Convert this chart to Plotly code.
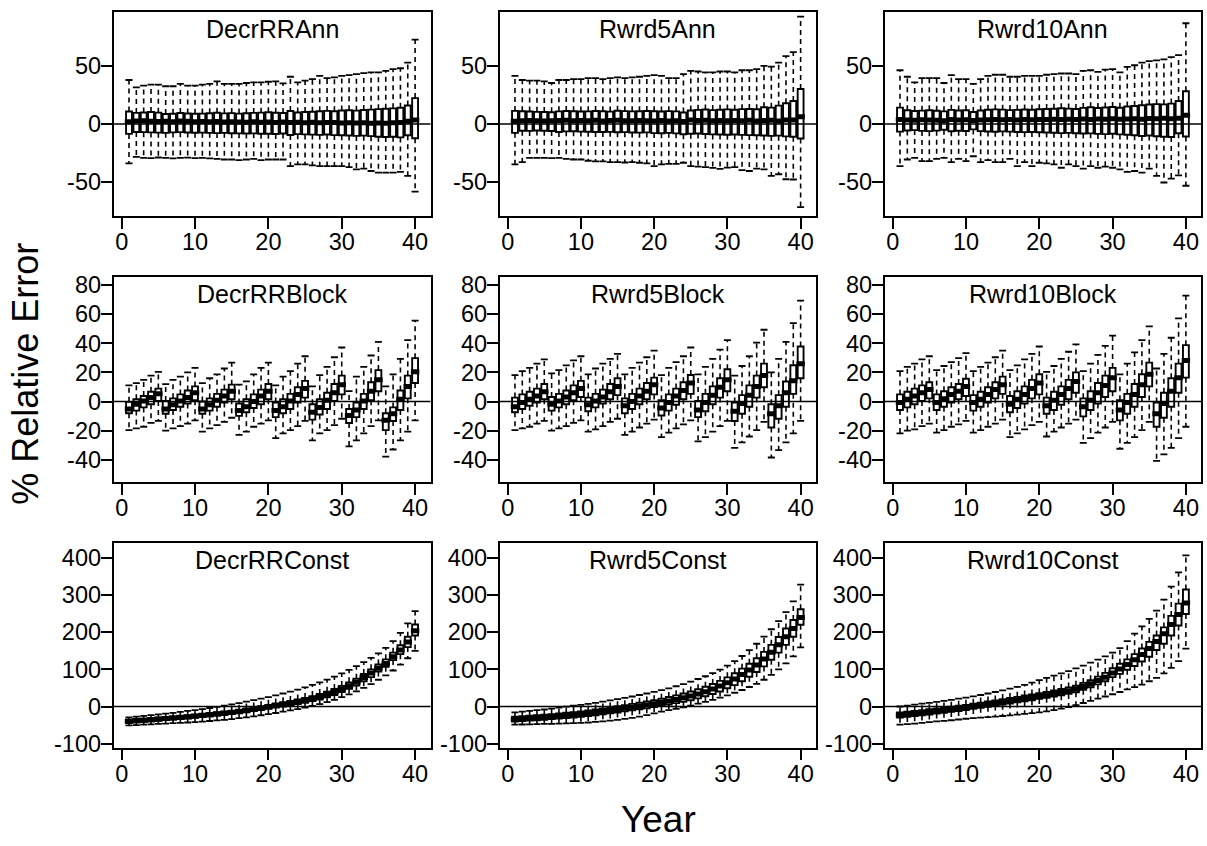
import plotly.graph_objects as go

YEARS = list(range(1, 41))

# ---------------- Row 1 : annual ----------------
DecrRRAnn_hi = [37.9, 31.6, 33.1, 33.9, 33.9, 32.5, 32.5, 34.5, 33.1, 33.1,
                33.9, 34.5, 36.7, 34.5, 34.5, 34.5, 35.3, 35.9, 35.9, 36.4,
                36.7, 35.0, 40.7, 35.9, 37.3, 38.7, 41.5, 39.5, 40.1, 41.5,
                42.1, 42.9, 43.8, 44.4, 44.4, 45.8, 47.2, 48.0, 52.8, 72.6]
DecrRRAnn_q3 = [10.8, 9.6, 9.9, 10.4, 9.8, 8.6, 8.9, 9.5, 9.1, 8.8,
                9.0, 9.3, 9.7, 9.2, 9.4, 9.0, 9.3, 9.6, 9.8, 10.1,
                9.7, 9.5, 11.2, 9.9, 10.3, 10.6, 11.0, 11.3, 11.0, 11.6,
                11.9, 11.5, 12.1, 12.4, 12.8, 13.2, 13.5, 14.0, 16.0, 22.3]
DecrRRAnn_med = [1.9, 2.6, 2.8, 2.5, 2.2, 2.3, 2.0, 2.6, 2.3, 2.0,
                 2.2, 1.9, 2.1, 1.7, 2.0, 1.8, 1.6, 1.9, 1.5, 1.7,
                 1.4, 1.8, 1.3, 1.6, 1.2, 1.5, 1.1, 1.4, 1.3, 1.0,
                 1.2, 0.9, 1.1, 0.7, 1.0, 0.6, 1.1, 1.3, 2.4, 3.4]
DecrRRAnn_q1 = [-8.5, -6.8, -7.0, -7.2, -7.4, -7.6, -7.2, -7.0, -7.3, -7.5,
                -7.4, -7.6, -7.8, -7.6, -7.9, -8.0, -8.1, -8.0, -8.3, -8.4,
                -8.6, -8.2, -9.4, -8.7, -8.9, -9.1, -9.3, -9.0, -9.5, -9.6,
                -9.9, -10.2, -10.0, -10.4, -10.9, -11.2, -11.0, -11.5, -9.6, -12.2]
DecrRRAnn_lo = [-33.9, -28.2, -29.1, -29.4, -28.8, -29.1, -29.6, -29.1, -28.9, -29.3,
                -29.1, -29.5, -29.9, -30.5, -30.5, -31.1, -30.5, -29.9, -31.1, -30.5,
                -30.5, -30.5, -36.2, -34.7, -34.7, -35.6, -36.2, -36.2, -36.2, -36.2,
                -37.0, -39.0, -38.4, -40.4, -41.8, -41.8, -41.8, -41.2, -44.6, -58.2]

Rwrd5Ann_hi = [41.5, 37.9, 37.3, 37.3, 36.7, 35.3, 37.9, 37.9, 38.7, 38.7,
               39.5, 39.5, 38.7, 39.5, 40.1, 39.5, 40.1, 40.7, 41.5, 42.1,
               41.5, 39.5, 39.5, 42.9, 45.8, 45.2, 44.4, 44.4, 45.2, 45.2,
               44.4, 46.3, 46.3, 47.2, 50.0, 49.4, 52.8, 58.5, 61.9, 92.4]
Rwrd5Ann_q3 = [11.3, 11.0, 10.8, 10.5, 10.4, 10.2, 10.9, 11.2, 11.0, 10.8,
               10.9, 11.2, 11.0, 10.7, 11.4, 11.1, 10.9, 11.0, 11.2, 11.0,
               10.8, 11.1, 10.9, 9.9, 11.6, 12.2, 12.5, 12.0, 12.3, 12.6,
               12.3, 12.8, 13.0, 12.7, 14.4, 14.1, 15.8, 17.9, 19.8, 30.2]
Rwrd5Ann_med = [2.4, 2.9, 3.1, 2.8, 2.7, 2.9, 3.0, 3.2, 2.8, 3.1,
                2.9, 3.3, 2.7, 3.0, 3.2, 2.9, 2.8, 3.1, 2.9, 2.6,
                3.0, 2.7, 2.8, 2.2, 3.4, 3.1, 3.2, 2.9, 3.0, 2.8,
                3.1, 2.9, 3.3, 2.7, 3.0, 3.2, 2.6, 3.4, 3.5, 6.2]
Rwrd5Ann_q1 = [-7.6, -5.8, -5.9, -5.6, -5.8, -6.0, -6.9, -6.3, -6.2, -6.5,
               -6.6, -6.8, -6.9, -6.7, -7.1, -7.0, -7.3, -7.4, -7.2, -7.8,
               -7.9, -7.6, -8.0, -8.8, -8.4, -8.2, -8.6, -8.9, -9.0, -9.2,
               -9.0, -9.3, -9.5, -9.7, -9.9, -10.2, -10.0, -10.6, -10.9, -12.4]
Rwrd5Ann_lo = [-34.7, -32.8, -29.1, -29.1, -29.1, -29.4, -29.1, -29.9, -30.5, -30.5,
               -31.6, -32.2, -32.2, -32.8, -32.8, -33.1, -32.8, -33.3, -33.9, -36.2,
               -34.7, -34.2, -34.2, -33.3, -36.2, -36.7, -37.0, -37.8, -38.6, -37.5,
               -37.0, -39.6, -40.4, -38.4, -39.0, -44.6, -43.2, -47.5, -47.7, -71.5]

Rwrd10Ann_hi = [46.3, 40.7, 35.9, 39.5, 39.5, 39.5, 35.3, 42.1, 38.7, 38.7,
                34.5, 38.7, 41.5, 42.4, 42.4, 40.7, 40.7, 41.5, 41.5, 41.5,
                42.4, 42.9, 43.5, 43.5, 42.9, 45.8, 46.3, 44.9, 46.9, 47.2,
                44.4, 49.2, 50.6, 52.8, 54.2, 54.8, 55.6, 57.6, 59.3, 86.7]
Rwrd10Ann_q3 = [14.1, 11.9, 11.2, 11.5, 11.8, 11.4, 10.9, 12.2, 11.6, 11.9,
                10.4, 11.7, 12.3, 12.6, 12.4, 12.0, 12.2, 12.5, 12.3, 12.7,
                12.9, 13.1, 13.6, 13.3, 13.0, 13.9, 14.4, 13.8, 14.2, 14.6,
                14.0, 15.1, 15.5, 16.2, 16.8, 17.1, 16.9, 17.6, 19.8, 28.2]
Rwrd10Ann_med = [3.9, 3.4, 3.2, 3.6, 3.5, 3.3, 2.9, 3.8, 3.4, 3.6,
                 3.0, 3.5, 3.7, 3.9, 3.6, 3.8, 3.5, 3.9, 3.7, 4.0,
                 3.8, 4.1, 3.9, 4.2, 3.8, 4.3, 4.0, 4.4, 4.1, 4.5,
                 4.2, 4.3, 4.6, 4.2, 4.8, 4.5, 4.9, 4.6, 5.0, 7.6]
Rwrd10Ann_q1 = [-6.5, -5.6, -5.2, -5.9, -6.1, -5.7, -4.9, -6.2, -5.8, -6.0,
                -4.6, -6.1, -6.4, -6.6, -6.3, -6.5, -6.8, -7.0, -6.9, -7.1,
                -7.3, -7.5, -7.8, -7.6, -7.9, -8.2, -8.0, -8.5, -8.7, -8.4,
                -8.9, -9.2, -9.6, -10.3, -9.8, -10.5, -10.9, -11.2, -7.9, -10.7]
Rwrd10Ann_lo = [-36.2, -30.5, -29.1, -31.9, -31.9, -29.9, -29.1, -32.8, -29.9, -31.9,
                -27.7, -32.8, -31.1, -32.8, -32.8, -29.9, -36.2, -32.8, -36.2, -33.3,
                -33.9, -34.7, -37.6, -34.7, -36.2, -38.4, -36.2, -37.6, -36.7, -37.6,
                -39.0, -41.2, -40.4, -41.8, -38.4, -44.6, -50.3, -46.9, -44.1, -53.1]

# ---------------- Row 2 : block ----------------
DecrRRBlock_hi = [11.1, 12.7, 14.9, 17.8, 20.4, 12.0, 14.9, 17.1, 20.0, 23.1,
                  12.7, 16.0, 18.7, 22.7, 26.7, 11.6, 13.8, 18.7, 23.1, 26.7,
                  11.1, 17.1, 20.9, 26.0, 31.1, 10.4, 18.2, 23.8, 30.4, 37.1,
                  7.1, 17.1, 23.8, 31.6, 40.9, 10.4, 18.7, 29.3, 42.2, 55.6]
DecrRRBlock_q3 = [-0.2, 1.6, 3.8, 6.7, 8.9, 0.4, 2.2, 4.9, 7.6, 10.4,
                  0.0, 2.2, 5.3, 8.2, 11.6, -1.3, 1.6, 4.9, 8.2, 12.0,
                  -0.7, 1.6, 5.3, 9.8, 14.2, -1.8, 1.6, 6.0, 12.0, 17.8,
                  -5.1, -0.7, 5.3, 13.3, 21.6, -8.0, -4.0, 7.6, 17.8, 29.8]
DecrRRBlock_med = [-5.1, -1.8, 0.4, 2.7, 5.3, -5.1, -2.2, 0.4, 2.7, 6.0,
                   -5.1, -2.2, 0.9, 3.8, 7.1, -6.2, -3.6, 0.0, 3.8, 7.1,
                   -6.2, -3.6, 0.4, 4.9, 8.9, -7.3, -4.0, 0.9, 6.0, 11.6,
                   -9.6, -5.8, 0.4, 7.1, 14.9, -12.9, -8.4, 1.6, 10.4, 20.4]
DecrRRBlock_q1 = [-8.0, -6.2, -4.0, -1.8, 0.4, -8.4, -5.8, -3.6, -1.3, 0.9,
                  -8.4, -6.2, -3.6, -0.7, 1.6, -9.8, -7.3, -4.4, -1.8, 1.6,
                  -10.7, -8.0, -5.1, -0.7, 2.7, -12.4, -8.9, -5.1, 0.4, 4.9,
                  -14.7, -10.7, -5.1, 0.9, 7.1, -19.6, -13.3, -5.8, 2.2, 12.7]
DecrRRBlock_lo = [-19.6, -18.4, -17.3, -14.7, -13.3, -20.0, -18.4, -16.9, -15.1, -12.9,
                  -20.7, -18.4, -16.2, -14.0, -11.1, -22.9, -20.7, -17.3, -15.1, -12.9,
                  -25.1, -21.8, -19.6, -16.9, -13.3, -26.7, -21.8, -19.6, -16.2, -11.8,
                  -30.7, -26.7, -21.8, -16.9, -12.9, -37.8, -32.9, -26.7, -20.7, -12.9]

Rwrd5Block_hi = [18.2, 20.9, 23.1, 26.0, 28.9, 19.3, 21.6, 24.9, 28.2, 31.1,
                 18.7, 22.7, 26.0, 29.3, 32.7, 18.7, 23.1, 26.7, 30.4, 34.9,
                 18.2, 23.1, 27.1, 31.1, 37.1, 18.7, 23.8, 29.3, 35.6, 42.2,
                 17.8, 24.4, 31.1, 40.4, 49.3, 20.0, 29.3, 40.9, 53.8, 69.3]
Rwrd5Block_q3 = [2.7, 4.9, 6.7, 8.9, 12.0, 3.1, 5.3, 7.6, 11.1, 14.2,
                 2.7, 5.3, 8.2, 12.0, 16.0, 2.2, 5.3, 8.9, 12.7, 16.4,
                 0.9, 4.9, 8.9, 13.3, 18.2, 0.4, 5.3, 10.4, 16.0, 22.2,
                 -0.7, 4.4, 11.1, 17.8, 26.0, -1.8, 4.4, 13.8, 24.9, 37.8]
Rwrd5Block_med = [-3.6, -0.7, 1.6, 3.8, 6.7, -1.8, 0.4, 3.1, 6.0, 8.9,
                  -2.2, 0.4, 3.1, 6.7, 10.4, -2.9, 0.0, 3.8, 7.1, 11.6,
                  -4.4, -0.7, 3.8, 7.6, 12.7, -5.8, -0.7, 4.4, 9.8, 14.9,
                  -6.7, -1.3, 4.4, 10.4, 17.8, -8.4, -2.9, 6.0, 14.2, 26.0]
Rwrd5Block_q1 = [-7.3, -5.1, -2.9, -0.7, 1.6, -6.2, -4.0, -1.8, 0.9, 3.1,
                 -6.7, -4.0, -1.3, 1.6, 4.4, -8.0, -5.1, -1.8, 1.6, 4.9,
                 -9.6, -6.2, -2.2, 1.6, 5.3, -10.7, -6.7, -1.8, 2.7, 7.1,
                 -13.3, -8.4, -3.6, 2.7, 9.8, -17.8, -11.8, -3.6, 5.3, 16.0]
Rwrd5Block_lo = [-19.6, -18.4, -17.3, -15.1, -13.3, -20.0, -18.4, -16.9, -14.7, -12.9,
                 -20.7, -19.1, -16.9, -14.0, -11.8, -22.9, -20.7, -17.8, -15.1, -12.4,
                 -24.4, -21.3, -18.4, -15.6, -12.9, -27.3, -24.4, -20.7, -16.9, -13.3,
                 -31.8, -28.0, -24.0, -19.6, -14.0, -38.4, -33.3, -28.0, -21.8, -13.3]

Rwrd10Block_hi = [20.9, 23.8, 26.0, 28.9, 31.1, 21.6, 24.4, 27.1, 29.8, 33.3,
                  20.9, 23.8, 26.7, 30.4, 34.9, 21.6, 24.9, 28.9, 32.7, 37.8,
                  20.4, 24.4, 29.3, 34.2, 39.3, 20.9, 26.0, 32.0, 38.2, 45.3,
                  18.7, 26.0, 33.8, 42.2, 51.6, 22.7, 32.7, 43.8, 57.1, 72.7]
Rwrd10Block_q3 = [4.9, 6.7, 8.9, 11.1, 13.3, 4.9, 7.1, 9.8, 12.0, 15.6,
                  4.4, 6.7, 9.8, 13.3, 17.1, 3.8, 7.1, 10.4, 14.9, 18.7,
                  2.7, 6.7, 10.4, 14.9, 20.0, 2.2, 7.1, 12.7, 17.8, 23.1,
                  0.9, 5.3, 12.0, 18.7, 26.7, -0.7, 6.0, 16.0, 26.0, 38.7]
Rwrd10Block_med = [-0.7, 1.6, 3.8, 6.0, 8.2, -0.7, 2.0, 4.9, 7.1, 10.4,
                   -0.7, 1.6, 4.9, 8.2, 11.6, -1.8, 1.6, 4.9, 8.9, 12.7,
                   -2.9, 0.9, 4.9, 8.9, 13.8, -3.6, 0.9, 6.0, 11.1, 16.4,
                   -5.8, -0.7, 4.9, 11.6, 18.7, -8.4, -1.3, 7.1, 16.4, 28.2]
Rwrd10Block_q1 = [-5.8, -4.0, -1.8, 0.4, 2.2, -5.8, -3.6, -0.7, 1.6, 3.8,
                  -6.2, -3.6, -0.7, 2.2, 5.3, -7.3, -4.4, -1.3, 2.2, 4.9,
                  -8.4, -5.8, -2.2, 1.6, 6.0, -10.2, -5.8, -1.3, 3.1, 7.1,
                  -12.9, -8.4, -3.6, 3.1, 10.4, -17.3, -11.1, -3.6, 6.0, 16.4]
Rwrd10Block_lo = [-21.8, -20.0, -19.1, -16.9, -15.1, -21.3, -19.6, -17.3, -15.6, -13.3,
                  -21.3, -19.6, -17.3, -15.1, -12.4, -24.4, -21.8, -19.1, -16.2, -14.0,
                  -24.0, -20.7, -17.8, -15.1, -12.4, -28.4, -25.1, -21.3, -17.8, -14.0,
                  -32.4, -28.4, -24.4, -19.6, -14.0, -40.7, -36.2, -31.8, -25.1, -17.3]

# ---------------- Row 3 : constant ----------------
DecrRRConst_hi = [-29.0, -27.0, -25.0, -23.0, -21.0, -19.0, -17.0, -14.5, -12.0, -9.5,
                  -7.0, -4.0, -1.0, 2.0, 5.5, 9.0, 13.0, 17.0, 21.0, 25.5,
                  30.0, 35.0, 40.0, 45.5, 51.5, 58.0, 65.0, 72.5, 80.5, 89.0,
                  98.5, 108.5, 119.5, 131.0, 143.0, 158.0, 176.0, 198.0, 224.0, 257.0]
DecrRRConst_q3 = [-35.5, -34.0, -32.5, -31.0, -29.5, -28.0, -26.5, -25.0, -23.5, -21.5,
                  -19.5, -17.5, -15.0, -13.0, -11.0, -8.5, -5.5, -2.5, 1.0, 4.5,
                  8.0, 11.5, 15.0, 19.0, 23.0, 28.0, 33.5, 40.0, 47.0, 55.5,
                  65.0, 75.0, 87.5, 100.0, 113.0, 127.0, 145.0, 165.0, 188.0, 221.0]
DecrRRConst_med = [-40.0, -38.5, -37.0, -35.5, -34.0, -32.5, -31.0, -29.5, -28.0, -26.0,
                   -24.0, -22.0, -20.0, -18.0, -16.0, -13.5, -11.0, -8.0, -4.5, -1.0,
                   2.5, 5.5, 9.0, 12.5, 16.5, 21.0, 26.0, 32.0, 39.0, 47.0,
                   56.0, 66.0, 78.0, 90.0, 103.0, 116.0, 134.0, 152.0, 174.0, 204.0]
DecrRRConst_q1 = [-44.0, -42.5, -41.0, -39.5, -38.0, -36.5, -35.0, -33.5, -32.0, -30.0,
                  -28.0, -26.5, -24.5, -22.5, -20.5, -18.0, -15.5, -12.5, -9.5, -6.0,
                  -3.0, 0.0, 3.0, 6.5, 10.0, 14.5, 19.0, 24.5, 31.0, 39.0,
                  47.5, 56.5, 68.0, 79.0, 94.0, 107.0, 125.0, 141.0, 160.0, 191.0]
DecrRRConst_lo = [-51.0, -50.0, -49.0, -48.0, -47.0, -46.0, -45.0, -44.0, -43.0, -42.0,
                  -40.5, -39.0, -37.5, -36.0, -34.0, -31.5, -29.0, -26.5, -23.5, -20.5,
                  -17.5, -14.0, -10.5, -7.0, -3.0, 1.5, 6.5, 12.0, 18.0, 25.0,
                  32.5, 41.0, 50.0, 60.0, 72.0, 84.0, 97.0, 113.0, 130.0, 150.0]

Rwrd5Const_hi = [-16.0, -14.0, -12.0, -10.0, -8.0, -5.5, -3.0, -0.5, 2.0, 4.5,
                 7.0, 10.0, 13.0, 16.5, 20.0, 23.5, 27.0, 31.0, 35.0, 39.5,
                 44.0, 49.0, 54.5, 60.5, 67.0, 74.0, 81.5, 90.0, 99.5, 110.0,
                 122.0, 136.0, 152.0, 169.0, 188.0, 208.0, 230.0, 254.0, 283.0, 328.0]
Rwrd5Const_q3 = [-27.5, -26.0, -25.0, -23.5, -22.0, -20.5, -19.0, -17.0, -15.0, -13.0,
                 -10.5, -8.0, -5.5, -2.5, 0.5, 3.5, 7.0, 10.0, 13.5, 17.0,
                 21.0, 25.5, 30.0, 35.0, 40.5, 46.5, 53.0, 60.5, 69.0, 78.5,
                 89.5, 102.0, 115.0, 130.0, 147.0, 166.0, 187.0, 210.0, 233.0, 262.0]
Rwrd5Const_med = [-34.0, -32.5, -31.5, -30.5, -29.0, -27.5, -26.0, -24.5, -22.5, -20.5,
                  -18.0, -16.0, -13.5, -11.0, -8.0, -5.0, -2.0, 1.0, 4.0, 7.5,
                  11.0, 15.0, 19.0, 23.5, 28.5, 34.0, 40.0, 47.0, 55.0, 64.0,
                  74.0, 86.0, 98.0, 112.0, 128.0, 146.0, 166.0, 188.0, 210.0, 240.0]
Rwrd5Const_q1 = [-40.5, -39.0, -38.0, -37.0, -35.5, -34.0, -32.5, -31.0, -29.5, -27.5,
                 -25.5, -23.5, -21.0, -18.5, -16.0, -13.0, -10.0, -7.5, -5.0, -1.5,
                 2.0, 5.5, 9.0, 13.0, 17.0, 22.0, 27.5, 33.5, 40.5, 49.0,
                 57.5, 68.0, 80.0, 93.0, 108.0, 126.0, 145.0, 166.0, 188.0, 220.0]
Rwrd5Const_lo = [-49.0, -48.5, -48.0, -47.5, -47.0, -46.5, -46.0, -45.5, -45.0, -44.0,
                 -43.0, -41.5, -40.0, -38.0, -36.0, -33.5, -30.5, -27.0, -23.0, -18.5,
                 -14.0, -10.0, -6.0, -2.0, 2.5, 7.5, 12.5, 18.0, 24.0, 30.0,
                 37.0, 44.5, 52.5, 61.0, 72.0, 85.0, 100.0, 116.0, 135.0, 159.0]

Rwrd10Const_hi = [0.0, 2.5, 5.0, 7.5, 10.0, 12.5, 15.0, 18.0, 21.0, 24.0,
                  27.5, 31.0, 35.0, 39.0, 43.5, 48.0, 53.0, 58.5, 64.5, 71.0,
                  77.0, 83.0, 89.0, 95.5, 102.5, 110.0, 118.0, 126.0, 135.0, 145.0,
                  157.0, 176.0, 196.0, 216.0, 236.0, 258.0, 288.0, 323.0, 361.0, 407.0]
Rwrd10Const_q3 = [-16.0, -14.0, -12.0, -10.0, -7.5, -5.0, -3.0, -0.5, 2.0, 4.5,
                  7.5, 10.5, 13.5, 16.5, 20.0, 23.0, 26.0, 29.5, 32.5, 36.0,
                  39.5, 43.5, 47.0, 51.5, 56.0, 63.5, 71.0, 80.5, 90.5, 103.0,
                  115.0, 127.0, 141.0, 156.0, 174.0, 191.0, 213.0, 244.0, 277.0, 315.0]
Rwrd10Const_med = [-23.0, -21.0, -19.0, -17.0, -14.5, -12.0, -10.0, -7.5, -5.0, -2.5,
                   0.5, 3.5, 6.5, 9.5, 12.5, 15.5, 18.5, 21.5, 24.5, 28.0,
                   31.5, 35.0, 38.5, 42.5, 47.0, 54.0, 61.0, 70.0, 79.0, 90.0,
                   101.0, 113.0, 126.0, 140.0, 156.0, 175.0, 196.0, 221.0, 248.0, 279.0]
Rwrd10Const_q1 = [-30.0, -28.0, -26.0, -24.0, -21.5, -19.0, -17.0, -14.5, -12.0, -9.5,
                  -6.5, -3.5, -0.5, 2.5, 5.0, 8.0, 11.0, 14.0, 17.0, 20.5,
                  23.5, 27.0, 30.5, 34.0, 38.5, 45.0, 52.0, 59.5, 68.0, 79.0,
                  88.0, 99.0, 109.0, 121.0, 134.0, 152.0, 169.0, 191.0, 218.0, 249.0]
Rwrd10Const_lo = [-49.0, -47.5, -46.0, -44.0, -42.0, -40.0, -38.5, -37.0, -35.0, -33.0,
                  -31.5, -30.0, -28.5, -27.0, -25.5, -24.0, -22.0, -20.0, -18.0, -16.0,
                  -13.0, -9.5, -5.5, -1.5, 3.5, 9.5, 15.0, 21.0, 27.0, 33.0,
                  39.0, 46.0, 52.0, 59.0, 68.0, 77.0, 89.0, 104.0, 122.0, 156.0]

PANEL_TITLES = ["DecrRRAnn", "Rwrd5Ann", "Rwrd10Ann",
                "DecrRRBlock", "Rwrd5Block", "Rwrd10Block",
                "DecrRRConst", "Rwrd5Const", "Rwrd10Const"]
PANEL_DATA = [
    (DecrRRAnn_lo, DecrRRAnn_q1, DecrRRAnn_med, DecrRRAnn_q3, DecrRRAnn_hi),
    (Rwrd5Ann_lo, Rwrd5Ann_q1, Rwrd5Ann_med, Rwrd5Ann_q3, Rwrd5Ann_hi),
    (Rwrd10Ann_lo, Rwrd10Ann_q1, Rwrd10Ann_med, Rwrd10Ann_q3, Rwrd10Ann_hi),
    (DecrRRBlock_lo, DecrRRBlock_q1, DecrRRBlock_med, DecrRRBlock_q3, DecrRRBlock_hi),
    (Rwrd5Block_lo, Rwrd5Block_q1, Rwrd5Block_med, Rwrd5Block_q3, Rwrd5Block_hi),
    (Rwrd10Block_lo, Rwrd10Block_q1, Rwrd10Block_med, Rwrd10Block_q3, Rwrd10Block_hi),
    (DecrRRConst_lo, DecrRRConst_q1, DecrRRConst_med, DecrRRConst_q3, DecrRRConst_hi),
    (Rwrd5Const_lo, Rwrd5Const_q1, Rwrd5Const_med, Rwrd5Const_q3, Rwrd5Const_hi),
    (Rwrd10Const_lo, Rwrd10Const_q1, Rwrd10Const_med, Rwrd10Const_q3, Rwrd10Const_hi),
]

ROW_YTICKS = [[-50, 0, 50],
              [-40, -20, 0, 20, 40, 60, 80],
              [-100, 0, 100, 200, 300, 400]]
X_TICKS = [0, 10, 20, 30, 40]

# ---------------- layout geometry ----------------
W, H = 1207, 846
ROW_YRANGE = [[-79.5, 96.5], [-55.2, 85.2], [-110.4, 440.4]]
X_RANGE = [-1.1, 42.1]
COL_PX = [(113.6, 430.5), (499.6, 816.0), (884.6, 1201.3)]
ROW_PX = [(7, 215), (277, 485), (547, 755)]

FONT = "Liberation Sans, Arial, Helvetica, sans-serif"
TICK_SIZE = 23.5
LW = 1.7

fig = go.Figure()
layout = dict(
    width=W, height=H,
    margin=dict(l=0, r=0, t=0, b=0),
    paper_bgcolor="white", plot_bgcolor="white",
    showlegend=False,
    font=dict(family=FONT, color="black"),
)
shapes = []
annotations = []

for k, (title, (lo, q1, med, q3, hi)) in enumerate(zip(PANEL_TITLES, PANEL_DATA)):
    r, c = divmod(k, 3)
    sfx = "" if k == 0 else str(k + 1)
    xa, ya = "x" + sfx, "y" + sfx

    # dashed whiskers
    wx, wy = [], []
    for yr, l, a, b, h in zip(YEARS, lo, q1, q3, hi):
        wx += [yr, yr, None, yr, yr, None]
        wy += [b, h, None, a, l, None]
    fig.add_trace(go.Scatter(x=wx, y=wy, mode="lines", xaxis=xa, yaxis=ya,
                             line=dict(color="black", width=1.6, dash="5px,4px"),
                             hoverinfo="skip"))
    # staples
    fig.add_trace(go.Scatter(x=YEARS + YEARS, y=hi + lo, mode="markers",
                             xaxis=xa, yaxis=ya,
                             marker=dict(symbol="line-ew", size=5,
                                         line=dict(color="black", width=1.8)),
                             hoverinfo="skip"))
    # boxes
    fig.add_trace(go.Box(x=YEARS, q1=q1, median=med, q3=q3,
                         lowerfence=q1, upperfence=q3,
                         width=0.8, whiskerwidth=0, boxpoints=False,
                         fillcolor="white", line=dict(color="black", width=1.9),
                         xaxis=xa, yaxis=ya, hoverinfo="skip"))
    # thick medians
    fig.add_trace(go.Scatter(x=YEARS, y=med, mode="markers", xaxis=xa, yaxis=ya,
                             marker=dict(symbol="line-ew", size=6,
                                         line=dict(color="black", width=5)),
                             hoverinfo="skip"))

    x0, x1 = COL_PX[c]
    top, bot = ROW_PX[r]
    common = dict(showgrid=False, zeroline=False, showline=True, mirror=True,
                  linecolor="black", linewidth=LW, ticks="outside", ticklen=11,
                  tickwidth=LW, tickcolor="black",
                  tickfont=dict(family=FONT, size=TICK_SIZE, color="black"))
    layout["xaxis" + sfx] = dict(domain=[x0 / W, x1 / W], anchor=ya, range=X_RANGE,
                                 tickmode="array", tickvals=X_TICKS,
                                 ticktext=[str(v) for v in X_TICKS],
                                 ticklabelstandoff=-7, **common)
    yt = ROW_YTICKS[r]
    layout["yaxis" + sfx] = dict(domain=[1 - bot / H, 1 - top / H], anchor=xa,
                                 range=ROW_YRANGE[r], tickmode="array", tickvals=yt,
                                 ticktext=[str(v) for v in yt],
                                 ticklabelstandoff=-5, **common)
    shapes.append(dict(type="line", xref=xa + " domain", yref=ya,
                       x0=0, x1=1, y0=0, y1=0, layer="above",
                       line=dict(color="black", width=1.5)))
    annotations.append(dict(text=title, xref=xa + " domain", yref=ya + " domain",
                            x=0.5, y=1, xanchor="center", yanchor="middle",
                            yshift=-17, showarrow=False,
                            font=dict(family=FONT, size=25, color="black")))

annotations.append(dict(text="% Relative Error", xref="paper", yref="paper",
                        x=26 / W, y=1 - 375 / H, xanchor="center", yanchor="middle",
                        textangle=-90, showarrow=False,
                        font=dict(family=FONT, size=36, color="black")))
annotations.append(dict(text="Year", xref="paper", yref="paper",
                        x=658 / W, y=1 - 828 / H, xanchor="center", yanchor="middle",
                        showarrow=False,
                        font=dict(family=FONT, size=37, color="black")))

layout["shapes"] = shapes
layout["annotations"] = annotations
fig.update_layout(**layout)
fig.write_html("out.html")
